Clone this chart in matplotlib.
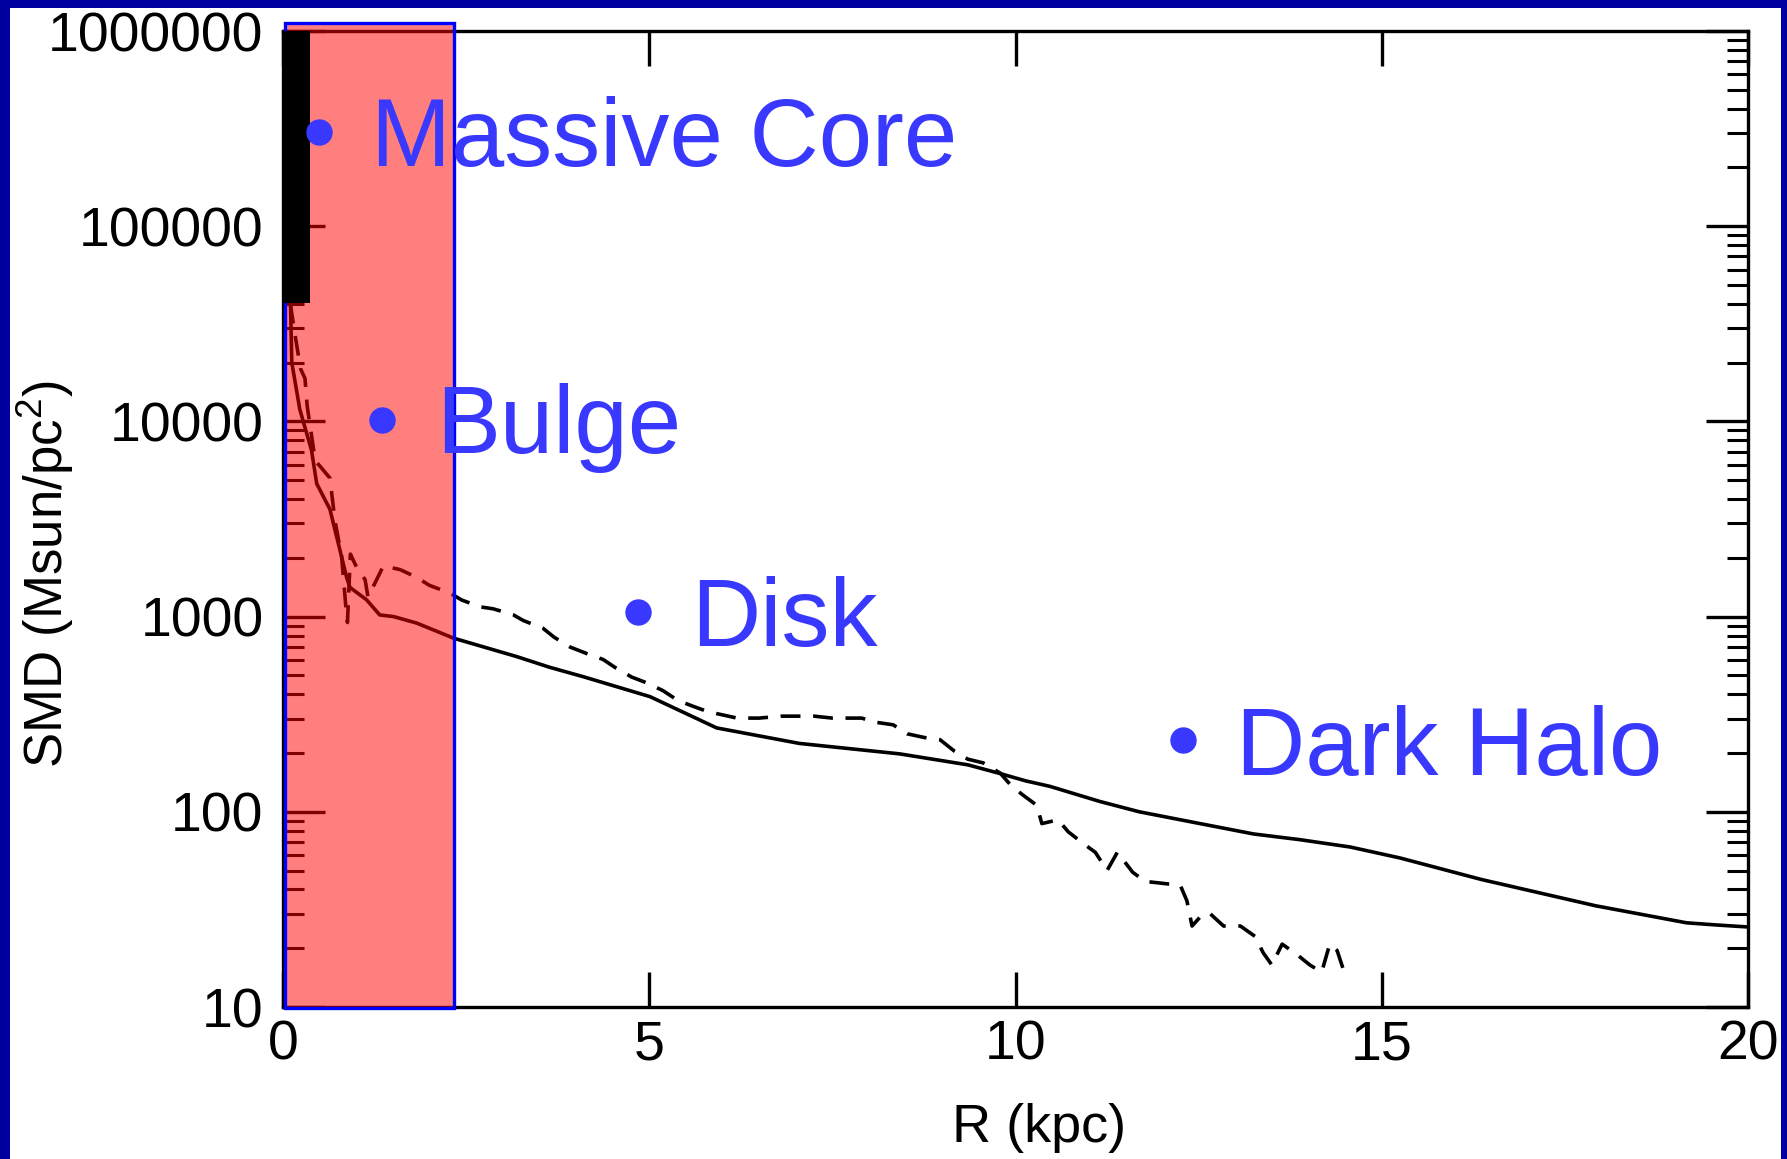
"""
Surface mass density profile with component labels (core, bulge, disk, halo)
"""

import matplotlib
matplotlib.use('Agg')
import matplotlib.pyplot as plt
from matplotlib.patches import Rectangle
from matplotlib.lines import Line2D
from matplotlib.ticker import LogLocator, FuncFormatter, NullLocator, FixedLocator

plt.rcParams['font.family'] = ['Liberation Sans', 'DejaVu Sans']
plt.rcParams['mathtext.fontset'] = 'custom'
plt.rcParams['mathtext.rm'] = 'Liberation Sans'
plt.rcParams['mathtext.it'] = 'Liberation Sans'

W, H = 1787, 1159

# solid curve: R (kpc) and SMD (Msun/pc^2)
solid_r = [0.10, 0.12, 0.23, 0.39, 0.46, 0.64, 0.755, 0.87, 0.915, 1.14, 1.32,
           1.51, 1.83, 2.33, 3.19, 3.64, 4.10, 5.01, 5.92, 7.05, 8.20, 8.42,
           9.35, 9.79, 10.14, 10.47, 11.15, 11.69, 12.52, 13.25, 13.88, 14.57,
           15.25, 16.36, 17.92, 19.16, 19.58, 20.00]
solid_smd = [45000, 20000, 11500, 7100, 4800, 3550, 2370, 1580, 1410, 1220, 1020,
             1000, 925, 775, 624, 550, 492, 389, 269, 224, 202, 198,
             174, 157, 144, 135, 113, 100, 87, 77, 72, 66,
             58, 45, 33, 27, 26.3, 25.7]

# dashed curve
dashed_r = [0.10, 0.17, 0.24, 0.30, 0.33, 0.44, 0.64, 0.71, 0.80, 0.86, 0.88,
            0.92, 1.02, 1.12, 1.16, 1.28, 1.37, 1.60, 1.83, 2.00, 2.28, 2.44,
            2.69, 2.87, 3.14, 3.28, 3.55, 3.70, 3.92, 4.15, 4.37, 4.53, 4.76,
            4.97, 5.19, 5.39, 5.60, 5.75, 5.83, 6.20, 6.50, 6.80, 7.25, 7.50,
            7.90, 8.08, 8.33, 8.52, 8.76, 8.97, 9.17, 9.35, 9.56, 9.79, 9.95,
            10.10, 10.29, 10.36, 10.58, 10.72, 10.92, 11.09, 11.25, 11.39, 11.45,
            11.60, 11.77, 12.01, 12.25, 12.34, 12.41, 12.56, 12.66, 12.84, 13.07,
            13.27, 13.38, 13.50, 13.64, 13.84, 14.02, 14.18, 14.29, 14.39, 14.47]
dashed_smd = [40000, 26900, 18600, 16600, 12000, 6300, 5130, 3090, 2040, 1100, 933,
              2090, 1740, 1550, 1260, 1550, 1820, 1740, 1585, 1445, 1320, 1216,
              1122, 1096, 1023, 955, 871, 785, 698, 646, 603, 550, 490,
              457, 417, 372, 347, 331, 324, 302, 302, 309, 309, 302,
              302, 288, 279, 251, 240, 234, 204, 186, 178, 158, 135,
              122, 108, 87, 91, 79, 69, 62, 50, 62, 58,
              49, 44, 43, 42, 35, 26, 30, 30, 26, 26,
              23, 19, 16.4, 21, 18.6, 16.4, 15.1, 21, 19.5, 15.8]

# massive core bar and highlighted central zone
core_r = [0.0, 0.37]
core_smd = [40500, 1e6]
zone_r = [0.03, 2.33]
zone_smd = [9.9, 1.1e6]

# component labels: (text, bullet px, text anchor px)
labels = ['Massive Core', 'Bulge', 'Disk', 'Dark Halo']
bullet_px = [(319, 132), (382, 420), (638, 612), (1183, 740)]
text_px = [(371, 166), (436, 453), (691, 646), (1236, 775)]

label_blue = '#3838FF'

fig = plt.figure(figsize=(W / 100, H / 100), dpi=100)
fig.patch.set_facecolor('#0000A0')
fig.add_artist(Rectangle((10 / W, 0), (1781 - 10) / W, (H - 8) / H,
                         transform=fig.transFigure, facecolor='white',
                         edgecolor='none', zorder=0))

ax = fig.add_axes([283 / W, 1 - 1007 / H, (1748 - 283) / W, (1007 - 31) / H])

ax.plot(solid_r, solid_smd, color='black', lw=2.6, zorder=2)
ax.plot(dashed_r, dashed_smd, color='black', lw=2.6, linestyle=(0, (5.5, 3.5)), zorder=2)

ax.set_yscale('log')
ax.set_xlim(0, 20)
ax.set_ylim(10, 1e6)

# red shaded core/bulge zone, drawn over the curves
ax.add_patch(Rectangle((zone_r[0], zone_smd[0]), zone_r[1] - zone_r[0],
                       zone_smd[1] - zone_smd[0],
                       facecolor=(1, 0, 0, 0.5), edgecolor=(0, 0, 1, 1),
                       lw=2.4, clip_on=False, zorder=3))

ax.bar(core_r[0], core_smd[1] - core_smd[0], width=core_r[1] - core_r[0],
       bottom=core_smd[0], align='edge', color='black', zorder=4)

# ticks
ax.xaxis.set_major_locator(FixedLocator([0, 5, 10, 15, 20]))
ax.xaxis.set_minor_locator(NullLocator())
ax.yaxis.set_major_locator(LogLocator(base=10, numticks=10))
ax.yaxis.set_minor_locator(LogLocator(base=10, subs=range(2, 10), numticks=20))
ax.yaxis.set_major_formatter(FuncFormatter(lambda v, p: f'{int(round(v))}'))

ax.tick_params(axis='x', which='major', direction='in', length=25, width=2.4,
               top=True, labelsize=40, pad=9)
ax.tick_params(axis='y', which='major', direction='in', length=30, width=2.4,
               right=True, labelsize=40, pad=14)
ax.tick_params(axis='y', which='minor', direction='in', length=15, width=2.2,
               right=True)
for s in ax.spines.values():
    s.set_linewidth(2.4)

ax.set_xlabel('R (kpc)', fontsize=39)
ax.xaxis.set_label_coords((1039 - 283) / (1748 - 283), -(1128 - 1007) / (1007 - 31),
                          transform=ax.transAxes)
ax.xaxis.label.set_va('center')
fig.text(45 / W, 1 - 574 / H, 'SMD (Msun/pc$^2$)', rotation=90, fontsize=38,
         ha='center', va='center')

# component labels with bullets
for lab, (bx, by), (tx, ty) in zip(labels, bullet_px, text_px):
    fig.add_artist(Line2D([bx / W], [1 - by / H], marker='o', markersize=18,
                          color=label_blue, transform=fig.transFigure, zorder=6))
    fig.text(tx / W, 1 - ty / H, lab, color=label_blue, fontsize=69,
             ha='left', va='baseline', zorder=6)

plt.savefig('out.png', dpi=100, facecolor=fig.get_facecolor())
